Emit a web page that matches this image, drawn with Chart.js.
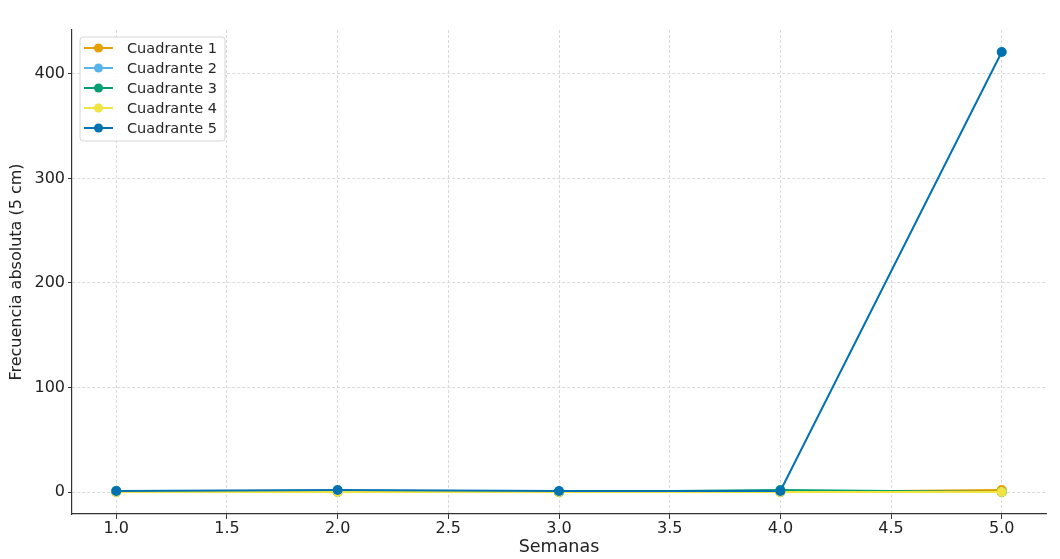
<!DOCTYPE html>
<html>
<head>
<meta charset="utf-8">
<script src="https://cdn.jsdelivr.net/npm/chart.js@4.4.1/dist/chart.umd.min.js"></script>
<style>
html,body{margin:0;padding:0;background:#fff;}
#wrap{width:1060px;height:559px;position:relative;}
</style>
</head>
<body>
<div id="wrap"><canvas id="c" width="1060" height="559"></canvas></div>
<script>
const weeks = [1, 2, 3, 4, 5];
const cuadrante1 = [0, 0, 0, 0, 2];
const cuadrante2 = [0, 0, 0, 0, 0];
const cuadrante3 = [1, 1, 0, 2, 0];
const cuadrante4 = [0, 0, 0, 0, 0];
const cuadrante5 = [1, 2, 1, 1, 421];
const seriesLabels = ['Cuadrante 1', 'Cuadrante 2', 'Cuadrante 3', 'Cuadrante 4', 'Cuadrante 5'];
const seriesColors = ['#E69F00', '#56B4E9', '#009E73', '#F0E442', '#0072B2'];
const xTicks = [1.0, 1.5, 2.0, 2.5, 3.0, 3.5, 4.0, 4.5, 5.0];
const yTicks = [0, 100, 200, 300, 400];
const xTitle = 'Semanas';
const yTitle = 'Frecuencia absoluta (5 cm)';

const allSeries = [cuadrante1, cuadrante2, cuadrante3, cuadrante4, cuadrante5];
const datasets = allSeries.map((s, i) => ({
  label: seriesLabels[i],
  data: weeks.map((w, j) => ({x: w, y: s[j]})),
  borderColor: seriesColors[i],
  backgroundColor: seriesColors[i],
  pointBackgroundColor: seriesColors[i],
  pointBorderColor: seriesColors[i],
  borderWidth: 2,
  pointRadius: 5,
  pointBorderWidth: 0,
  tension: 0,
  fill: false,
  order: allSeries.length - i
}));

const legendPlugin = {
  id: 'innerLegend',
  afterDraw(chart) {
    const ctx = chart.ctx;
    const ca = chart.chartArea;
    const x0 = ca.left + 8, y0 = ca.top + 7, w = 145, h = 104;
    ctx.save();
    ctx.beginPath();
    const r = 3;
    ctx.moveTo(x0 + r, y0);
    ctx.arcTo(x0 + w, y0, x0 + w, y0 + h, r);
    ctx.arcTo(x0 + w, y0 + h, x0, y0 + h, r);
    ctx.arcTo(x0, y0 + h, x0, y0, r);
    ctx.arcTo(x0, y0, x0 + w, y0, r);
    ctx.closePath();
    ctx.fillStyle = 'rgba(255,255,255,0.85)';
    ctx.fill();
    ctx.strokeStyle = '#d6d6d6';
    ctx.lineWidth = 1;
    ctx.stroke();
    chart.data.datasets.forEach((ds, i) => {
      const yy = y0 + 11 + i * 20;
      ctx.strokeStyle = ds.borderColor;
      ctx.lineWidth = 2;
      ctx.beginPath();
      ctx.moveTo(x0 + 4, yy);
      ctx.lineTo(x0 + 33, yy);
      ctx.stroke();
      ctx.fillStyle = ds.borderColor;
      ctx.beginPath();
      ctx.arc(x0 + 18.5, yy, 4.5, 0, Math.PI * 2);
      ctx.fill();
      ctx.fillStyle = '#262626';
      ctx.font = '14.5px "DejaVu Sans"';
      ctx.textBaseline = 'middle';
      ctx.textAlign = 'left';
      ctx.fillText(ds.label, x0 + 47, yy + 1);
    });
    ctx.restore();
  }
};

new Chart(document.getElementById('c'), {
  type: 'line',
  data: {datasets},
  plugins: [legendPlugin],
  options: {
    responsive: false,
    animation: false,
    devicePixelRatio: 1,
    layout: {padding: {left: 0, right: 14, top: 30, bottom: 0}},
    plugins: {legend: {display: false}, tooltip: {enabled: false}},
    scales: {
      x: {
        type: 'linear',
        min: 0.8,
        max: 5.2,
        afterBuildTicks: (s) => { s.ticks = xTicks.map(v => ({value: v})); },
        afterFit: (s) => { s.height = 45; },
        ticks: {
          color: '#222',
          font: {family: 'DejaVu Sans', size: 16},
          padding: 0,
          maxRotation: 0,
          callback: (v) => Number(v).toFixed(1)
        },
        grid: {color: '#d0d0d0', lineWidth: 0.8, tickLength: 5, tickColor: '#333', tickWidth: 1, tickBorderDash: []},
        border: {display: true, color: '#333', width: 1.2, dash: [3, 2]},
        title: {display: true, text: xTitle, color: '#222', font: {family: 'DejaVu Sans', size: 17.5}, padding: {top: 0, bottom: 1}}
      },
      y: {
        type: 'linear',
        min: -21,
        max: 442,
        afterBuildTicks: (s) => { s.ticks = yTicks.map(v => ({value: v})); },
        afterFit: (s) => { s.width = 72; },
        ticks: {
          color: '#222',
          font: {family: 'DejaVu Sans', size: 16},
          padding: 3
        },
        grid: {color: '#d0d0d0', lineWidth: 0.8, tickLength: 4, tickColor: '#333', tickWidth: 1, tickBorderDash: []},
        border: {display: true, color: '#333', width: 1.2, dash: [3, 2]},
        title: {display: true, text: yTitle, color: '#222', font: {family: 'DejaVu Sans', size: 16}, padding: {top: 7, bottom: 0}}
      }
    }
  }
});
</script>
</body>
</html>
